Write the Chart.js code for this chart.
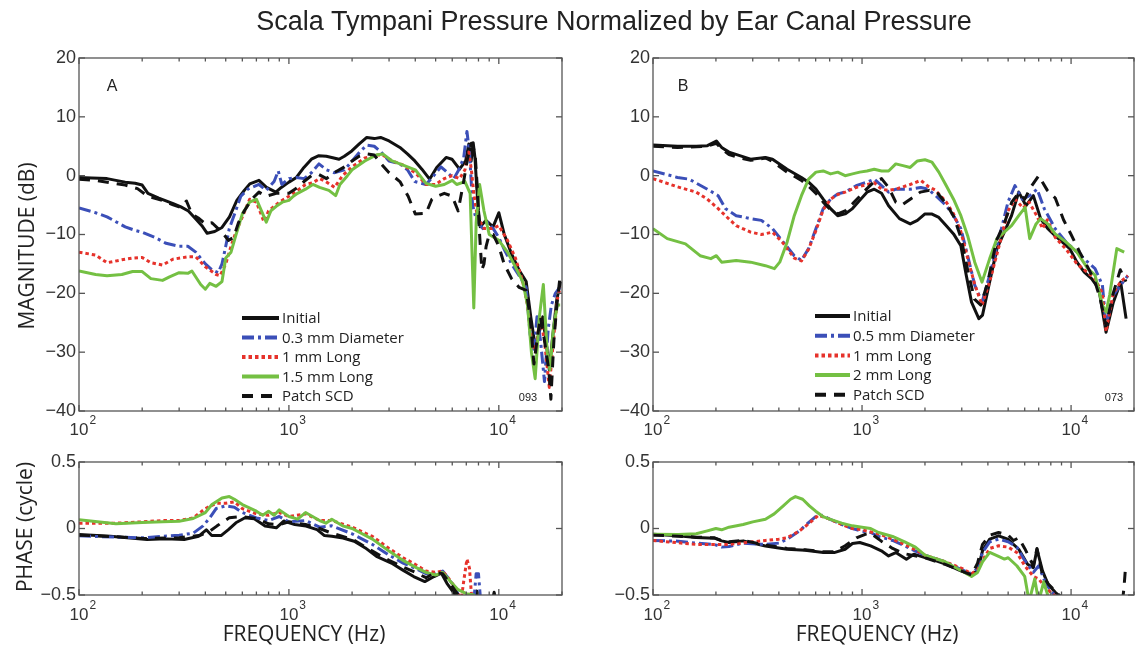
<!DOCTYPE html>
<html><head><meta charset="utf-8">
<script src="https://cdn.jsdelivr.net/npm/chart.js@4.4.1/dist/chart.umd.min.js"></script>
<style>
html,body{margin:0;padding:0;background:#fff;}
#wrap{position:relative;width:1141px;height:650px;overflow:hidden;background:#fff;}
canvas{position:absolute;left:0;top:0;}
.t{position:absolute;white-space:nowrap;color:#222;line-height:1;transform:translate(-50%,-50%);}
.ax{font-family:"Open Sans",sans-serif;font-size:21px;}
.rot{transform:translate(-50%,-50%) rotate(-90deg);}
</style></head><body>
<div id="wrap">
<canvas id="cMagA" width="1141" height="650"></canvas>
<canvas id="cMagB" width="1141" height="650"></canvas>
<canvas id="cPhA" width="1141" height="650"></canvas>
<canvas id="cPhB" width="1141" height="650"></canvas>
<div class="t" style="left:614px;top:21px;font-family:'Liberation Sans',Arial,sans-serif;font-size:27px;">Scala Tympani Pressure Normalized by Ear Canal Pressure</div>
<div class="t ax rot" style="left:26px;top:246px;">MAGNITUDE (dB)</div>
<div class="t ax rot" style="left:24px;top:527px;">PHASE (cycle)</div>
<div class="t ax" style="left:304px;top:633px;">FREQUENCY (Hz)</div>
<div class="t ax" style="left:877px;top:633px;">FREQUENCY (Hz)</div>
<div class="t" style="left:112px;top:86px;font-family:'Liberation Sans',Arial,sans-serif;font-size:16px;">A</div>
<div class="t" style="left:683px;top:86px;font-family:'Liberation Sans',Arial,sans-serif;font-size:16px;">B</div>
<div class="t" style="left:528px;top:397px;font-family:'Liberation Sans',Arial,sans-serif;font-size:11px;">093</div>
<div class="t" style="left:1114px;top:397px;font-family:'Liberation Sans',Arial,sans-serif;font-size:11px;">073</div>
</div>
<script>
// ---------------- DATA ----------------
const seriesLabelsA = ['Initial', '0.3 mm Diameter', '1 mm Long', '1.5 mm Long', 'Patch SCD'];
const seriesLabelsB = ['Initial', '0.5 mm Diameter', '1 mm Long', '2 mm Long', 'Patch SCD'];
const magTicks = [20, 10, 0, -10, -20, -30, -40];
const phaseTicks = [0.5, 0, -0.5];
const freqTickExponents = [2, 3, 4];

// Panel A magnitude [Hz, dB]
const magA_initial = [[100,-0.3],[115,-0.4],[136,-0.5],[150,-0.8],[166,-1.1],[185,-1.3],[200,-1.6],[213,-3.0],[240,-3.8],[283,-4.8],[306,-5.3],[332,-6.0],[361,-7.4],[385,-8.5],[408,-9.8],[443,-9.5],[480,-8.8],[521,-7.0],[565,-4.2],[613,-2.5],[651,-1.4],[720,-0.8],[782,-2.0],[866,-2.8],[920,-2.0],[1000,-1.1],[1086,-0.3],[1179,1.4],[1280,2.8],[1389,3.4],[1507,3.3],[1636,3.0],[1733,2.8],[1837,3.3],[1994,4.2],[2164,5.4],[2350,6.5],[2550,6.3],[2734,6.5],[3000,5.9],[3380,4.8],[3670,3.7],[3980,2.5],[4300,1.1],[4680,-0.6],[5060,1.4],[5610,3.1],[5980,2.8],[6500,1.1],[6950,2.5],[7200,5.4],[7380,2.5],[7550,5.6],[7700,3.0],[7850,-2.0],[8000,-6.0],[8150,-8.7],[8680,-7.6],[9390,-8.7],[10000,-6.3],[10600,-9.9],[11500,-13.3],[12500,-16.1],[13500,-18],[14200,-24],[14900,-29],[15500,-27],[16200,-24],[16900,-29],[17400,-33],[18100,-27],[18900,-21],[19700,-18]];
const magA_diam = [[100,-5.5],[120,-6.3],[136,-7.0],[166,-8.7],[185,-9.3],[200,-9.6],[230,-10.5],[260,-11.5],[300,-12.0],[330,-12.0],[360,-13.0],[400,-15.0],[430,-16.0],[460,-16.5],[480,-15.0],[500,-12.0],[520,-9.0],[545,-7.0],[590,-3.5],[637,-2.3],[720,-1.5],[780,-2.5],[850,-1.0],[890,0.8],[925,-1.5],[1000,-0.5],[1086,-0.3],[1180,-0.5],[1280,0.5],[1390,2.0],[1510,1.0],[1640,0.5],[1840,1.0],[2000,2.5],[2170,4.0],[2350,5.2],[2550,5.0],[2750,4.0],[3000,2.5],[3380,2.0],[3670,1.0],[3980,-1.0],[4500,-1.5],[4900,0],[5300,1.5],[5700,0.5],[6100,-0.5],[6450,1.0],[6800,3.0],[7050,7.5],[7250,4.0],[7500,-5.0],[7750,-7.0],[8000,-8.0],[8400,-9.0],[8900,-8.0],[9400,-9.0],[10000,-10.5],[10600,-12.5],[11500,-15],[12500,-17],[13500,-19],[14100,-27],[14700,-30],[15200,-24],[15800,-28],[16500,-35],[17200,-26],[17800,-22],[18600,-20],[19500,-19]];
const magA_1mm = [[100,-13.0],[120,-13.5],[136,-14.8],[160,-14.3],[180,-14.0],[200,-13.9],[220,-14.8],[250,-15.2],[280,-14.2],[330,-13.8],[360,-13.8],[400,-15.5],[450,-16.8],[470,-17.0],[500,-15.0],[530,-12.0],[560,-9.5],[600,-7.0],[650,-4.0],[700,-4.5],[760,-7.8],[800,-6.0],[900,-4.5],[1000,-3.5],[1100,-2.5],[1200,-1.5],[1300,-1.2],[1400,-0.5],[1500,-1.0],[1650,-2.0],[1800,0.0],[2000,1.5],[2300,3.0],[2600,3.5],[2800,3.5],[3100,2.5],[3500,1.8],[4000,0.5],[4500,-1.5],[5000,-1.5],[5500,-0.5],[6000,0.0],[6500,-0.5],[6900,1.0],[7200,4.0],[7400,1.0],[7600,-3.0],[7900,-7.0],[8500,-9.0],[9300,-9.0],[10000,-8.5],[11000,-11.0],[12000,-14.0],[13000,-18.0],[13700,-22],[14300,-28],[15000,-30],[15700,-24],[16500,-28],[17400,-36],[18200,-28],[19000,-21],[19600,-19]];
const magA_15mm = [[100,-16.2],[120,-16.8],[136,-17.0],[160,-16.8],[180,-16.3],[200,-16.3],[220,-17.5],[250,-17.8],[270,-17.2],[300,-16.5],[330,-16.6],[345,-16.2],[380,-18.5],[400,-19.3],[420,-18.3],[450,-18.8],[480,-18.0],[500,-14.0],[530,-13.0],[560,-10.0],[600,-6.5],[650,-4.5],[700,-4.0],[740,-6.0],[780,-7.9],[820,-6.0],[870,-5.2],[930,-4.5],[1000,-4.2],[1050,-3.5],[1100,-3.0],[1200,-2.3],[1300,-1.5],[1400,-2.0],[1550,-2.5],[1670,-3.4],[1750,-1.5],[1900,0.0],[2000,1.0],[2300,2.5],[2600,3.5],[2800,3.7],[3100,2.5],[3500,1.8],[4000,1.0],[4500,-1.3],[5000,-1.8],[5500,-1.5],[6000,-0.8],[6300,-1.5],[6900,-1.0],[7300,-3.0],[7600,-22.5],[7800,-8.0],[8100,-1.5],[8500,-6.0],[9000,-10.0],[9500,-10.5],[10000,-11.0],[11000,-13.0],[12000,-15.5],[13000,-18.0],[13700,-22],[14300,-30],[14900,-34.5],[15600,-24],[16300,-18.5],[17000,-30],[17500,-33],[18200,-26],[19000,-22],[19600,-22]];
const magA_patch = [[100,-0.6],[120,-0.8],[140,-1.2],[166,-1.6],[190,-2.2],[213,-3.5],[250,-4.2],[283,-5.0],[306,-5.4],[325,-4.3],[345,-6.5],[370,-7.2],[400,-8.2],[430,-8.0],[460,-9.0],[490,-10.0],[515,-11.0],[545,-10.5],[575,-8.0],[613,-6.0],[665,-4.0],[720,-2.8],[780,-3.5],[870,-3.0],[1000,-3.0],[1100,-2.0],[1180,-1.0],[1280,0.0],[1390,0.2],[1510,-0.5],[1640,0.5],[1840,1.5],[2000,2.5],[2160,3.3],[2350,3.7],[2550,3.5],[2750,2.0],[3000,0.5],[3380,-1.0],[3700,-3.5],[4000,-6.5],[4500,-6.4],[4800,-4.0],[5100,-3.5],[5500,-3.0],[6000,-3.5],[6400,-6.0],[6800,-1.0],[7100,3.0],[7400,5.5],[7700,4.0],[7900,-2.0],[8100,-10.0],[8300,-16.0],[8500,-15.0],[8700,-12.0],[9000,-10.0],[9400,-10.0],[10000,-12.0],[10600,-15.0],[11500,-17.5],[12500,-19.0],[13500,-19.5],[14100,-24],[14700,-32],[15200,-28],[15800,-24],[16500,-28],[17300,-33],[17700,-38],[18300,-28],[18900,-22],[19600,-17]];

// Panel B magnitude [Hz, dB]
const magB_initial = [[100,5.2],[131,5.0],[161,5.0],[182,5.1],[201,5.9],[213,4.8],[231,4.0],[260,3.4],[293,2.8],[345,3.1],[373,2.8],[438,1.1],[513,-0.3],[555,-1.1],[602,-2.3],[652,-4.0],[707,-5.6],[765,-6.8],[830,-6.5],[900,-5.6],[975,-4.2],[1056,-2.8],[1144,-2.3],[1240,-3.0],[1340,-5.1],[1510,-7.3],[1700,-8.2],[1840,-7.6],[2000,-6.5],[2150,-6.5],[2330,-7.1],[2530,-8.5],[2740,-9.9],[2970,-11.9],[3150,-16.9],[3340,-21.5],[3620,-24.3],[3770,-23.7],[4080,-18],[4420,-12.4],[4790,-9.6],[5190,-6.8],[5620,-2.8],[6090,-5.1],[6600,-3.4],[7150,-7.3],[7740,-9.0],[8390,-10.2],[9090,-11.3],[9850,-12.4],[10670,-14.7],[11560,-16.4],[12530,-17.5],[13570,-19.2],[14700,-26.6],[15930,-21.5],[17270,-18.1],[18330,-24.3]];
const magB_diam = [[100,0.8],[131,-0.3],[149,-0.6],[182,-2.3],[205,-3.4],[222,-5.6],[250,-6.8],[293,-7.3],[330,-7.6],[373,-9.0],[420,-11.3],[474,-13.6],[513,-14.4],[555,-12.4],[602,-9.0],[652,-5.6],[707,-4.0],[765,-3.1],[830,-2.8],[937,-1.7],[1056,-1.1],[1144,-0.6],[1240,-1.7],[1340,-2.8],[1450,-2.3],[1700,-2.3],[1910,-2.0],[2070,-2.3],[2250,-3.4],[2530,-5.1],[2740,-6.8],[2970,-9.0],[3200,-13.6],[3460,-18.6],[3750,-21.5],[4080,-16.9],[4600,-9.6],[4990,-4.5],[5390,-1.7],[5850,-4.0],[6340,-3.4],[6880,-2.3],[7440,-5.6],[8390,-9.0],[9470,-11.3],[10670,-13.0],[12020,-14.7],[13020,-15.8],[14120,-18.6],[14700,-25.4],[15930,-20.3],[17270,-18.6],[18700,-17]];
const magB_1mm = [[100,-0.5],[131,-1.9],[161,-2.8],[182,-4.0],[205,-5.6],[222,-6.8],[250,-8.5],[293,-9.6],[330,-10.0],[373,-9.6],[420,-11.5],[474,-14.0],[513,-14.5],[555,-12.5],[602,-9.3],[652,-5.8],[707,-4.0],[765,-3.2],[830,-2.8],[937,-2.0],[1056,-1.5],[1144,-1.2],[1240,-2.3],[1340,-2.5],[1450,-2.3],[1700,-1.5],[1910,-0.8],[2070,-1.8],[2250,-2.5],[2530,-4.5],[2740,-6.5],[2970,-9.5],[3200,-14],[3460,-18.5],[3750,-22],[4080,-18],[4600,-11],[4990,-6],[5400,-4],[5900,-5.5],[6300,-4.5],[6900,-7],[7300,-9],[7700,-7.5],[8400,-10.5],[9470,-12.5],[10670,-15],[12020,-16.5],[13020,-17.5],[14120,-20],[14700,-26.5],[15930,-20],[17270,-18],[18700,-17]];
const magB_2mm = [[100,-9.0],[117,-10.7],[143,-11.6],[168,-13.6],[189,-14.1],[201,-13.6],[213,-14.7],[250,-14.4],[293,-14.7],[345,-15.3],[381,-15.8],[404,-14.7],[438,-11.3],[474,-6.8],[513,-3.4],[555,-0.6],[602,0.6],[652,0.8],[707,0.3],[765,0.6],[830,0.0],[900,0.3],[975,0.6],[1056,0.8],[1144,1.1],[1240,0.8],[1340,0.8],[1450,2.0],[1570,1.7],[1700,1.4],[1840,2.5],[2000,2.7],[2160,2.3],[2330,0.6],[2530,-1.7],[2740,-4.0],[2970,-6.8],[3200,-10.2],[3460,-14.7],[3750,-18.1],[4080,-14.1],[4420,-10.7],[4790,-9.6],[5190,-8.5],[5620,-6.8],[6030,-5.4],[6340,-10.7],[6800,-8.2],[7150,-7.3],[7740,-8.2],[8390,-9.9],[9470,-11.3],[10670,-13.0],[12020,-15.8],[13020,-16.9],[14120,-22],[14700,-23.2],[15300,-20.3],[16550,-12.4],[17950,-13.0]];
const magB_patch = [[100,5.0],[131,4.8],[161,4.9],[182,5.0],[201,5.5],[213,4.5],[231,3.6],[260,3.0],[293,2.6],[345,3.0],[373,2.4],[438,0.6],[513,-0.8],[555,-1.8],[602,-3.0],[652,-4.5],[707,-5.8],[765,-6.5],[830,-6.0],[900,-4.8],[975,-3.5],[1056,-2.2],[1144,-1.0],[1240,-0.5],[1340,-2.0],[1450,-4.5],[1550,-5.0],[1700,-4.0],[1900,-2.8],[2100,-2.5],[2300,-3.0],[2530,-4.8],[2750,-7.0],[2970,-10.5],[3200,-16],[3450,-21],[3700,-22],[4000,-18],[4400,-11],[4800,-8],[5200,-4.5],[5600,-3],[6000,-4],[6400,-2],[7000,0],[7700,-2.5],[8400,-3.8],[9200,-7.5],[10000,-10],[11000,-13],[12000,-15.5],[13000,-18],[13800,-21],[14700,-25.5],[15900,-20],[17200,-16],[18300,-18]];

// Panel A phase [Hz, cycle]
const phA_initial = [[100,-0.045],[141,-0.058],[211,-0.083],[259,-0.078],[317,-0.083],[372,-0.058],[404,-0.01],[429,-0.053],[475,-0.053],[515,-0.008],[559,0.043],[618,0.081],[684,0.073],[770,0.018],[871,0.005],[945,0.056],[1067,0.030],[1206,0.018],[1362,-0.008],[1477,-0.053],[1601,-0.058],[1810,-0.071],[2046,-0.096],[2312,-0.146],[2613,-0.21],[3077,-0.26],[3476,-0.311],[3930,-0.361],[4440,-0.399],[4915,-0.361],[5330,-0.336],[5660,-0.412],[6130,-0.487],[6400,-0.55],[7000,null],[7700,-0.55],[7850,-0.47],[8000,-0.55],[8500,null],[9300,-0.55],[9500,-0.48],[9700,-0.55]];
const phA_diam = [[100,-0.055],[150,-0.065],[200,-0.07],[300,-0.05],[350,-0.035],[390,0.02],[420,0.08],[450,0.15],[500,0.17],[550,0.16],[600,0.12],[700,0.08],[800,0.06],[900,0.09],[1000,0.05],[1200,0.06],[1400,0.01],[1600,0.02],[2000,-0.04],[2500,-0.12],[3000,-0.2],[3500,-0.26],[4000,-0.3],[4500,-0.34],[5000,-0.34],[5400,-0.32],[5800,-0.38],[6300,-0.47],[6600,-0.55],[7000,null],[7600,-0.55],[7800,-0.34],[8000,-0.34],[8200,-0.55]];
const phA_1mm = [[100,0.04],[150,0.04],[200,0.05],[250,0.06],[300,0.06],[350,0.08],[400,0.15],[450,0.19],[500,0.19],[550,0.2],[600,0.15],[700,0.11],[800,0.1],[900,0.12],[1000,0.09],[1200,0.11],[1400,0.06],[1600,0.06],[2000,0.01],[2500,-0.06],[3000,-0.15],[3500,-0.22],[4000,-0.27],[4500,-0.32],[5000,-0.33],[5400,-0.32],[5800,-0.38],[6300,-0.46],[6600,-0.55],[6800,-0.4],[7050,-0.23],[7250,-0.3],[7450,-0.55]];
const phA_15mm = [[100,0.065],[150,0.035],[200,0.045],[250,0.05],[300,0.055],[350,0.075],[400,0.12],[430,0.18],[480,0.23],[520,0.24],[550,0.22],[600,0.18],[700,0.13],[750,0.1],[800,0.13],[850,0.1],[900,0.14],[1000,0.09],[1100,0.07],[1200,0.12],[1400,0.06],[1500,0.04],[1600,0.07],[1800,0.02],[2000,0.0],[2500,-0.08],[3000,-0.17],[3500,-0.24],[4000,-0.29],[4500,-0.33],[5000,-0.35],[5400,-0.33],[5900,-0.4],[6400,-0.46],[7000,-0.49],[7600,-0.5],[7800,-0.55]];
const phA_patch = [[100,-0.05],[150,-0.062],[200,-0.075],[300,-0.07],[380,-0.05],[420,-0.02],[455,0.02],[480,0.045],[520,0.08],[600,0.09],[700,0.075],[800,0.035],[900,0.03],[1000,0.05],[1200,0.03],[1400,0.0],[1600,-0.035],[2000,-0.08],[2500,-0.17],[3000,-0.24],[3500,-0.29],[4000,-0.33],[4500,-0.37],[5000,-0.33],[5400,-0.34],[5900,-0.42],[6400,-0.5],[6600,-0.55]];

// Panel B phase [Hz, cycle]
const phB_initial = [[100,-0.043],[132,-0.055],[161,-0.068],[197,-0.073],[213,-0.093],[231,-0.105],[270,-0.093],[345,-0.131],[438,-0.156],[534,-0.163],[653,-0.181],[736,-0.181],[830,-0.156],[900,-0.113],[975,-0.105],[1100,-0.131],[1237,-0.168],[1340,-0.206],[1450,-0.181],[1630,-0.231],[1770,-0.193],[2000,-0.219],[2160,-0.231],[2530,-0.269],[2970,-0.319],[3340,-0.344],[3570,-0.319],[3770,-0.168],[4080,-0.08],[4500,-0.055],[4980,-0.08],[5620,-0.156],[6190,-0.269],[6600,-0.294],[6870,-0.156],[7300,-0.319],[7760,-0.42],[8400,-0.48],[9470,-0.55]];
const phB_diam = [[100,-0.09],[132,-0.095],[161,-0.11],[197,-0.12],[213,-0.14],[231,-0.135],[270,-0.11],[345,-0.12],[400,-0.11],[438,-0.08],[500,-0.02],[560,0.05],[600,0.09],[650,0.1],[700,0.07],[800,0.03],[900,0.0],[1000,-0.02],[1100,-0.03],[1200,-0.06],[1400,-0.09],[1600,-0.13],[1800,-0.17],[2000,-0.2],[2500,-0.25],[3000,-0.31],[3340,-0.34],[3570,-0.3],[3770,-0.18],[4080,-0.1],[4500,-0.08],[5000,-0.1],[5500,-0.14],[6000,-0.24],[6600,-0.33],[7000,-0.28],[7500,-0.4],[8000,-0.47],[8600,-0.52]];
const phB_1mm = [[100,-0.09],[161,-0.12],[200,-0.12],[231,-0.12],[300,-0.1],[345,-0.09],[400,-0.08],[438,-0.07],[500,-0.02],[560,0.04],[620,0.1],[700,0.07],[800,0.03],[900,0.0],[1000,-0.01],[1200,-0.04],[1400,-0.08],[1600,-0.12],[1800,-0.16],[2000,-0.2],[2500,-0.25],[3000,-0.3],[3340,-0.34],[3570,-0.31],[3770,-0.24],[4080,-0.15],[4500,-0.13],[5000,-0.14],[5500,-0.18],[6000,-0.28],[6600,-0.36],[7000,-0.38],[7500,-0.44],[8000,-0.48],[8600,-0.52]];
const phB_2mm = [[100,-0.043],[132,-0.045],[161,-0.04],[180,-0.02],[200,0.0],[213,-0.01],[231,0.01],[270,0.03],[300,0.05],[345,0.07],[380,0.11],[420,0.17],[455,0.22],[480,0.24],[520,0.22],[560,0.17],[600,0.13],[650,0.09],[700,0.07],[800,0.04],[900,0.02],[1000,0.01],[1100,0.0],[1200,-0.03],[1400,-0.06],[1600,-0.1],[1800,-0.14],[2000,-0.2],[2500,-0.25],[3000,-0.32],[3340,-0.36],[3570,-0.33],[3770,-0.25],[4080,-0.18],[4500,-0.21],[4800,-0.23],[5000,-0.22],[5500,-0.28],[6000,-0.36],[6300,-0.55],[6700,-0.38],[7000,-0.55],[7400,-0.4],[7900,-0.55]];
const phB_patch = [[100,-0.05],[132,-0.058],[161,-0.065],[197,-0.07],[213,-0.09],[231,-0.1],[270,-0.09],[345,-0.125],[438,-0.15],[534,-0.16],[653,-0.175],[736,-0.175],[830,-0.13],[940,-0.07],[1050,-0.04],[1100,-0.035],[1237,-0.095],[1400,-0.15],[1600,-0.19],[2000,-0.22],[2500,-0.27],[3000,-0.32],[3340,-0.35],[3570,-0.26],[3770,-0.12],[4080,-0.05],[4500,-0.03],[5000,-0.05],[5300,-0.09],[5620,-0.07],[6000,-0.15],[6600,-0.28],[6870,-0.15],[7300,-0.35],[7800,-0.42],[8400,-0.47],[9000,-0.52],[9500,null],[17600,-0.55],[17900,-0.45],[18200,-0.3],[18500,-0.3]];

// ---------------- STYLE ----------------
const TICKFONT = '"Liberation Sans", Arial, sans-serif';
const STYLES = [
  { color: '#111111', dash: [], order: 4 },          // Initial
  { color: '#3b4fb8', dash: [12, 4, 3, 4], order: 3 }, // Diameter
  { color: '#e6322b', dash: [3.5, 3], order: 2 },     // 1 mm Long
  { color: '#74c043', dash: [], order: 1 },           // green
  { color: '#111111', dash: [11, 8], order: 0 }       // Patch SCD
];
function makeDatasets(labels, series) {
  return series.map((s, i) => ({
    label: labels[i],
    data: s.map(p => ({ x: p[0], y: p[1] })),
    borderColor: STYLES[i].color,
    borderDash: STYLES[i].dash,
    borderWidth: 3,
    borderCapStyle: 'butt',
    borderJoinStyle: 'round',
    pointRadius: 0,
    tension: 0,
    spanGaps: false,
    fill: false,
    order: STYLES[i].order
  }));
}
function fmtTick(v) {
  if (v === 0) return '0';
  const s = Math.abs(v) < 1 ? Math.abs(v).toFixed(1) : String(Math.abs(v));
  return (v < 0 ? '\u2212' : '') + s;
}

const axesPlugin = {
  id: 'matlabAxes',
  afterDraw(chart, args, opts) {
    const { ctx, chartArea: a } = chart;
    const x = chart.scales.x, y = chart.scales.y;
    ctx.save();
    ctx.strokeStyle = '#555';
    ctx.lineWidth = 1.3;
    ctx.setLineDash([]);
    ctx.strokeRect(a.left, a.top, a.width, a.height);
    const seg = (x1, y1, x2, y2) => { ctx.beginPath(); ctx.moveTo(x1, y1); ctx.lineTo(x2, y2); ctx.stroke(); };
    for (let e = 2; e <= 4; e++) {
      for (let m = 1; m <= 9; m++) {
        const f = m * Math.pow(10, e);
        if (f < x.min || f > x.max) continue;
        const px = x.getPixelForValue(f);
        const len = m === 1 ? 6 : 3.5;
        seg(px, a.bottom, px, a.bottom - len);
        seg(px, a.top, px, a.top + len);
      }
    }
    y.ticks.forEach(t => {
      const py = y.getPixelForValue(t.value);
      seg(a.left, py, a.left + 6, py);
      seg(a.right, py, a.right - 6, py);
    });
    // x tick labels 10^n
    ctx.fillStyle = '#333';
    freqTickExponents.forEach(e => {
      const px = x.getPixelForValue(Math.pow(10, e));
      ctx.font = '17px ' + TICKFONT;
      ctx.textAlign = 'center';
      ctx.textBaseline = 'top';
      ctx.fillText('10', px, a.bottom + opts.labelGap);
      const w = ctx.measureText('10').width;
      ctx.font = '12px ' + TICKFONT;
      ctx.textAlign = 'left';
      ctx.fillText(String(e), px + w / 2 + 1, a.bottom + opts.labelGap - 7);
    });
    // legend
    if (opts.legend) {
      const L = opts.legend;
      chart.data.datasets.forEach((d, i) => {
        const yy = L.y0 + i * L.dy;
        ctx.beginPath();
        ctx.setLineDash(d.borderDash);
        ctx.lineWidth = 4;
        ctx.lineCap = 'butt';
        ctx.strokeStyle = d.borderColor;
        ctx.moveTo(L.x0, yy);
        ctx.lineTo(L.x1, yy);
        ctx.stroke();
        ctx.setLineDash([]);
        ctx.fillStyle = '#222';
        ctx.font = '15px "Open Sans", sans-serif';
        ctx.textAlign = 'left';
        ctx.textBaseline = 'middle';
        ctx.fillText(d.label, L.tx, yy + 1);
      });
    }
    ctx.restore();
  }
};

function makeChart(id, box, yMin, yMax, yTicks, datasets, extra) {
  const YW = 70, XH = 40;
  return new Chart(document.getElementById(id), {
    type: 'line',
    data: { datasets },
    options: {
      responsive: false,
      animation: false,
      events: [],
      layout: { padding: { left: box.l - YW, top: box.t, right: 1141 - box.r, bottom: 650 - box.b - XH } },
      scales: {
        x: {
          type: 'logarithmic', min: 100, max: 20000,
          grid: { display: false, drawTicks: false }, border: { display: false },
          ticks: { display: false },
          afterFit: s => { s.height = XH; }
        },
        y: {
          type: 'linear', min: yMin, max: yMax,
          grid: { display: false, drawTicks: false }, border: { display: false },
          afterBuildTicks: s => { s.ticks = yTicks.map(v => ({ value: v })); },
          ticks: { color: '#333', padding: 3, font: { family: TICKFONT, size: 18 }, callback: v => fmtTick(v) },
          afterFit: s => { s.width = YW; }
        }
      },
      plugins: { legend: { display: false }, tooltip: { enabled: false }, matlabAxes: extra }
    },
    plugins: [axesPlugin]
  });
}

makeChart('cMagA', { l: 79, t: 58, r: 562, b: 411 }, -40, 20, magTicks,
  makeDatasets(seriesLabelsA, [magA_initial, magA_diam, magA_1mm, magA_15mm, magA_patch]),
  { labelGap: 11, legend: { x0: 242, x1: 279, tx: 282, y0: 318, dy: 19.5 } });
makeChart('cMagB', { l: 653, t: 58, r: 1134, b: 411 }, -40, 20, magTicks,
  makeDatasets(seriesLabelsB, [magB_initial, magB_diam, magB_1mm, magB_2mm, magB_patch]),
  { labelGap: 11, legend: { x0: 815, x1: 850, tx: 853, y0: 316, dy: 19.7 } });
makeChart('cPhA', { l: 79, t: 462, r: 562, b: 595 }, -0.5, 0.5, phaseTicks,
  makeDatasets(seriesLabelsA, [phA_initial, phA_diam, phA_1mm, phA_15mm, phA_patch]),
  { labelGap: 12 });
makeChart('cPhB', { l: 653, t: 462, r: 1134, b: 595 }, -0.5, 0.5, phaseTicks,
  makeDatasets(seriesLabelsB, [phB_initial, phB_diam, phB_1mm, phB_2mm, phB_patch]),
  { labelGap: 12 });
</script>
</body></html>
